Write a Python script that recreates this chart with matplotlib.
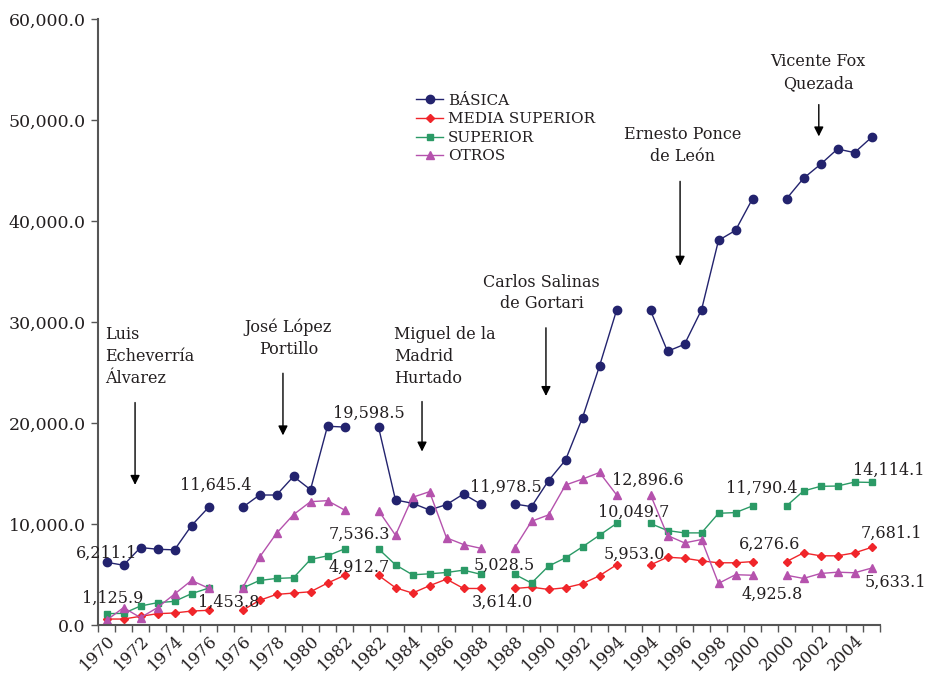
import numpy as np
import matplotlib
matplotlib.use('Agg')
import matplotlib.pyplot as plt

plt.rcParams['font.family'] = ['DejaVu Serif']
TXT = '#231f20'

# categories: one block of years per presidential term, with an empty slot between blocks
years = ['1970', '1971', '1972', '1973', '1974', '1975', '1976', '',
         '1976', '1977', '1978', '1979', '1980', '1981', '1982', '',
         '1982', '1983', '1984', '1985', '1986', '1987', '1988', '',
         '1988', '1989', '1990', '1991', '1992', '1993', '1994', '',
         '1994', '1995', '1996', '1997', '1998', '1999', '2000', '',
         '2000', '2001', '2002', '2003', '2004', '2005']

basica = [6211.1, 5920, 7670, 7500, 7440, 9840, 11645.4, None,
          11645.4, 12870, 12870, 14710, 13400, 19680, 19598.5, None,
          19598.5, 12380, 12050, 11390, 11920, 12970, 11978.5, None,
          11978.5, 11720, 14290, 16330, 20530, 25640, 31140, None,
          31140, 27100, 27790, 31200, 38080, 39070, 42200, None,
          42200, 44230, 45610, 47130, 46770, 48280]

media = [590, 590, 860, 1120, 1190, 1380, 1453.8, None,
         1453.8, 2440, 3030, 3160, 3290, 4150, 4912.7, None,
         4912.7, 3690, 3160, 3890, 4540, 3620, 3614.0, None,
         3614.0, 3750, 3520, 3690, 4090, 4880, 5953.0, None,
         5953.0, 6710, 6610, 6350, 6160, 6160, 6276.6, None,
         6276.6, 7140, 6850, 6850, 7140, 7681.1]

superior = [1125.9, 1150, 1880, 2210, 2340, 3100, 3650, None,
            3650, 4410, 4610, 4680, 6490, 6850, 7536.3, None,
            7536.3, 5960, 4970, 5070, 5200, 5430, 5028.5, None,
            5028.5, 4150, 5830, 6650, 7740, 8890, 10049.7, None,
            10049.7, 9350, 9120, 9120, 11060, 11130, 11790.4, None,
            11790.4, 13270, 13730, 13760, 14150, 14114.1]

otros = [460, 1720, 730, 1720, 3060, 4410, 3650, None,
         3650, 6710, 9080, 10930, 12210, 12310, 11390, None,
         11330, 8890, 12640, 13200, 8630, 7970, 7600, None,
         7600, 10270, 10900, 13860, 14450, 15100, 12896.6, None,
         12896.6, 8860, 8130, 8460, 4120, 4980, 4925.8, None,
         4925.8, 4610, 5100, 5230, 5170, 5633.1]

series = [
    ('BÁSICA', basica, '#23236e', 'o', 6),
    ('MEDIA SUPERIOR', media, '#f0252a', 'D', 4),
    ('SUPERIOR', superior, '#2b9a66', 's', 5),
    ('OTROS', otros, '#b552ad', '^', 6),
]

# value labels: (series, category index, offset in pixels)
value_labels = [
    (basica, 0, (0, 9)), (superior, 0, (6, 15)),
    (basica, 6, (7, 22)), (media, 6, (20, 8)),
    (basica, 16, (-10, 14)), (superior, 16, (-19, 15)), (media, 16, (-19, 8)),
    (basica, 22, (25, 17)), (superior, 22, (24, 9)), (media, 22, (22, -14)),
    (otros, 32, (-3, 14)), (superior, 32, (-17, 11)), (media, 32, (-16, 11)),
    (superior, 38, (9, 18)), (media, 38, (17, 17)), (otros, 38, (20, -19)),
    (superior, 45, (17, 12)), (media, 45, (20, 14)), (otros, 45, (24, -14)),
]

# presidents: text, text position, alignment, arrow (x, y start, y end)
presidents = [
    ('Luis\nEcheverría\nÁlvarez', -0.1, 29600, 'left', 1.68, 22300, 13600),
    ('José López\nPortillo', 10.7, 30300, 'center', 10.38, 25200, 18500),
    ('Miguel de la\nMadrid\nHurtado', 16.9, 29600, 'left', 18.56, 22400, 16900),
    ('Carlos Salinas\nde Gortari', 25.6, 34800, 'center', 25.85, 29700, 22400),
    ('Ernesto Ponce\nde León', 33.9, 49400, 'center', 33.74, 44200, 35300),
    ('Vicente Fox\nQuezada', 41.85, 56600, 'center', 41.9, 51800, 48100),
]

fig = plt.figure(figsize=(9.3, 6.75), dpi=100)
ax = fig.add_axes([98 / 930, 50 / 675, 782 / 930, 606 / 675])

x = np.arange(len(years))
for name, vals, color, marker, ms in series:
    y = np.array([np.nan if v is None else v for v in vals], dtype=float)
    ax.plot(x, y, color=color, lw=1, marker=marker, markersize=ms, label=name)

for vals, i, off in value_labels:
    ax.annotate(f'{vals[i]:,.1f}', xy=(i, vals[i]), xytext=off, textcoords='offset pixels',
                ha='center', va='center', fontsize=11.5, color=TXT)

for text, tx, ty, ha, axx, y0, y1 in presidents:
    ax.text(tx, ty, text, ha=ha, va='top', fontsize=11.5, color=TXT, linespacing=1.38)
    ax.annotate('', xy=(axx, y1), xytext=(axx, y0),
                arrowprops=dict(arrowstyle='-|>', color='black', lw=1, mutation_scale=14))

ax.set_xlim(-0.5, len(years) - 0.5)
ax.set_ylim(0, 60000)
ax.set_yticks(np.arange(0, 60001, 10000))
ax.set_yticklabels([f'{v:,.1f}' for v in np.arange(0, 60001, 10000)])
ax.set_xticks(x[::2])
ax.set_xticklabels(years[::2], rotation=45, ha='right', va='top', rotation_mode='anchor')
ax.set_xticks(np.arange(-0.5, len(years), 1), minor=True)
ax.tick_params(axis='x', which='major', length=0, pad=5, labelsize=12, labelcolor=TXT)
ax.tick_params(axis='x', which='minor', length=5, width=1, color='#555555')
ax.tick_params(axis='y', length=5, width=1, color='#555555', labelsize=12.5, labelcolor=TXT, pad=4)

for s in ['top', 'right']:
    ax.spines[s].set_visible(False)
for s in ['left', 'bottom']:
    ax.spines[s].set_color('#555555')
    ax.spines[s].set_linewidth(1.5)

fig.legend(loc='upper left', bbox_to_anchor=(402 / 930, 1 - 80 / 675), frameon=False,
           fontsize=11, handlelength=1.8, handletextpad=0.3, labelspacing=0.3, labelcolor=TXT)

fig.savefig('out.png', dpi=100)
